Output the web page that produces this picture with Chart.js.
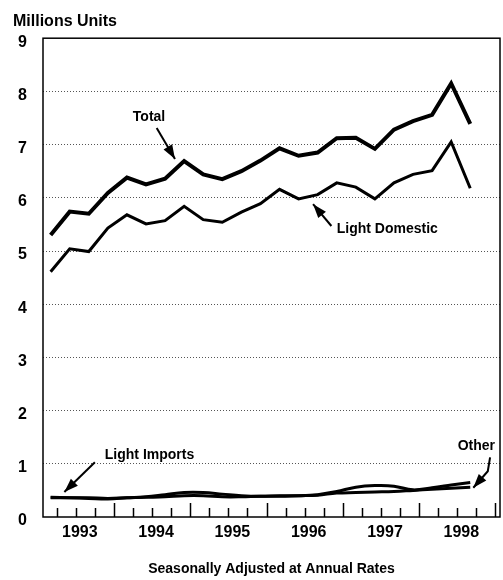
<!DOCTYPE html>
<html>
<head>
<meta charset="utf-8">
<script src="https://cdn.jsdelivr.net/npm/chart.js@4/dist/chart.umd.min.js"></script>
<style>
  html, body { margin: 0; padding: 0; background: #fff; }
  canvas { display: block; }
</style>
</head>
<body>
<canvas id="truckChart" width="503" height="580"></canvas>
<script>
// quarterly truck sales, millions of units (SAAR)
const quarters = ['1993Q1', '1993Q2', '1993Q3', '1993Q4', '1994Q1', '1994Q2', '1994Q3', '1994Q4',
                  '1995Q1', '1995Q2', '1995Q3', '1995Q4', '1996Q1', '1996Q2', '1996Q3', '1996Q4',
                  '1997Q1', '1997Q2', '1997Q3', '1997Q4', '1998Q1', '1998Q2', '1998Q3'];
const total = [5.30, 5.74, 5.70, 6.09, 6.38, 6.25, 6.36, 6.69, 6.44, 6.35, 6.50, 6.70,
               6.93, 6.79, 6.85, 7.12, 7.13, 6.92, 7.28, 7.44, 7.56, 8.15, 7.39];
const lightDomestic = [4.61, 5.04, 4.99, 5.43, 5.68, 5.51, 5.57, 5.84, 5.59, 5.54, 5.73, 5.89,
                       6.16, 5.98, 6.06, 6.28, 6.20, 5.98, 6.28, 6.44, 6.51, 7.05, 6.18];
const lightImports = [0.37, 0.36, 0.35, 0.34, 0.36, 0.38, 0.42, 0.46, 0.46, 0.43, 0.40, 0.39,
                      0.40, 0.40, 0.42, 0.48, 0.56, 0.59, 0.58, 0.51, 0.55, 0.60, 0.65];
const other = [0.36, 0.36, 0.36, 0.35, 0.36, 0.37, 0.38, 0.40, 0.40, 0.38, 0.38, 0.39,
               0.39, 0.40, 0.41, 0.45, 0.46, 0.47, 0.48, 0.50, 0.52, 0.54, 0.56];
const years = [1993, 1994, 1995, 1996, 1997, 1998];
const yTicks = [0, 1, 2, 3, 4, 5, 6, 7, 8, 9];

// quarter -> position on the time axis (points sit a little into the quarter)
function quarterPos(q) {
    const yr = parseInt(q.slice(0, 4));
    const n = parseInt(q.slice(5));
    return yr + (n - 1) * 0.25 + 0.17;
}
const xs = quarters.map(quarterPos);
const toPoints = vals => vals.map((v, i) => ({ x: xs[i], y: v }));

// callouts, in data units
const notes = [
    { text: 'Total', x: 1994.46, y: 7.52, align: 'center', arrow: [[1994.56, 7.31], [1994.80, 6.73]] },
    { text: 'Light Domestic', x: 1996.92, y: 5.42, align: 'left', arrow: [[1996.85, 5.47], [1996.61, 5.88]] },
    { text: 'Light Imports', x: 1993.88, y: 1.16, align: 'left', arrow: [[1993.75, 1.03], [1993.35, 0.47]] },
    { text: 'Other', x: 1998.75, y: 1.34, align: 'center', arrow: [[1998.93, 1.12], [1998.90, 0.86], [1998.71, 0.55]] }
];

const FONT = '"Liberation Sans", Arial, sans-serif';
Chart.defaults.font.family = FONT;
Chart.defaults.color = '#000';

// frame, inside quarter ticks, callouts
const decor = {
    id: 'decor',
    afterDatasetsDraw(chart) {
        const { ctx, chartArea: a, scales: { x, y } } = chart;
        ctx.save();
        ctx.strokeStyle = '#000';
        ctx.fillStyle = '#000';
        ctx.lineWidth = 1.5;
        ctx.strokeRect(a.left, a.top, a.right - a.left, a.bottom - a.top);

        ctx.beginPath();
        const k0 = Math.ceil(x.min * 4);
        for (let k = k0; k / 4 <= x.max; k++) {
            const px = Math.round(x.getPixelForValue(k / 4)) + 0.5;
            const len = k % 4 === 0 ? 14 : 9;
            ctx.moveTo(px, a.bottom);
            ctx.lineTo(px, a.bottom - len);
        }
        ctx.stroke();

        ctx.font = 'bold 14px ' + FONT;
        ctx.textBaseline = 'middle';
        ctx.lineWidth = 2;
        notes.forEach(n => {
            ctx.textAlign = n.align;
            ctx.fillText(n.text, x.getPixelForValue(n.x), y.getPixelForValue(n.y));
            const pts = n.arrow.map(p => [x.getPixelForValue(p[0]), y.getPixelForValue(p[1])]);
            ctx.beginPath();
            ctx.moveTo(pts[0][0], pts[0][1]);
            pts.slice(1).forEach(p => ctx.lineTo(p[0], p[1]));
            ctx.stroke();
            const [x1, y1] = pts[pts.length - 2];
            const [x2, y2] = pts[pts.length - 1];
            const ang = Math.atan2(y2 - y1, x2 - x1);
            const c = Math.cos(ang), s = Math.sin(ang);
            ctx.beginPath();
            ctx.moveTo(x2, y2);
            ctx.lineTo(x2 - 14 * c + 5 * s, y2 - 14 * s - 5 * c);
            ctx.lineTo(x2 - 14 * c - 5 * s, y2 - 14 * s + 5 * c);
            ctx.closePath();
            ctx.fill();
        });
        ctx.restore();
    }
};

new Chart(document.getElementById('truckChart'), {
    type: 'line',
    data: {
        datasets: [
            { label: 'Total', data: toPoints(total), borderWidth: 4 },
            { label: 'Light Domestic', data: toPoints(lightDomestic), borderWidth: 3 },
            { label: 'Light Imports', data: toPoints(lightImports), borderWidth: 3, tension: 0.4 },
            { label: 'Other', data: toPoints(other), borderWidth: 3, tension: 0.4 }
        ]
    },
    options: {
        responsive: false,
        animation: false,
        devicePixelRatio: 1,
        layout: { padding: { left: 13, right: 3, top: 0, bottom: 0 } },
        elements: {
            point: { radius: 0 },
            line: { borderColor: '#000', fill: false, tension: 0 }
        },
        plugins: {
            legend: { display: false },
            tooltip: { enabled: false },
            title: {
                display: true,
                text: 'Millions Units',
                align: 'start',
                color: '#000',
                font: { size: 16, weight: 'bold' },
                padding: { top: 12, bottom: 7 }
            }
        },
        scales: {
            x: {
                type: 'linear',
                min: 1993.07,
                max: 1999.06,
                afterBuildTicks: s => { s.ticks = years.map(v => ({ value: v + 0.5 })); },
                afterFit: s => { s.height = 63; },
                ticks: {
                    callback: v => String(Math.floor(v)),
                    labelOffset: 4,
                    padding: 6,
                    maxRotation: 0,
                    autoSkip: false,
                    color: '#000',
                    font: { size: 16, weight: 'bold' }
                },
                grid: { display: false, drawTicks: false },
                border: { display: false },
                title: {
                    display: true,
                    text: 'Seasonally Adjusted at Annual Rates',
                    color: '#000',
                    font: { size: 14, weight: 'bold' },
                    padding: { top: 20, bottom: 2 }
                }
            },
            y: {
                min: 0,
                max: 9,
                afterBuildTicks: s => { s.ticks = yTicks.map(v => ({ value: v })); },
                afterFit: s => { s.width = 30; },
                ticks: {
                    padding: 16,
                    labelOffset: 4,
                    color: '#000',
                    font: { size: 16, weight: 'bold' }
                },
                grid: {
                    drawTicks: false,
                    lineWidth: 1,
                    color: c => (c.tick.value === 0 || c.tick.value === 9) ? 'rgba(0,0,0,0)' : '#555'
                },
                border: { display: false, dash: [1, 2] }
            }
        }
    },
    plugins: [decor]
});
</script>
</body>
</html>
